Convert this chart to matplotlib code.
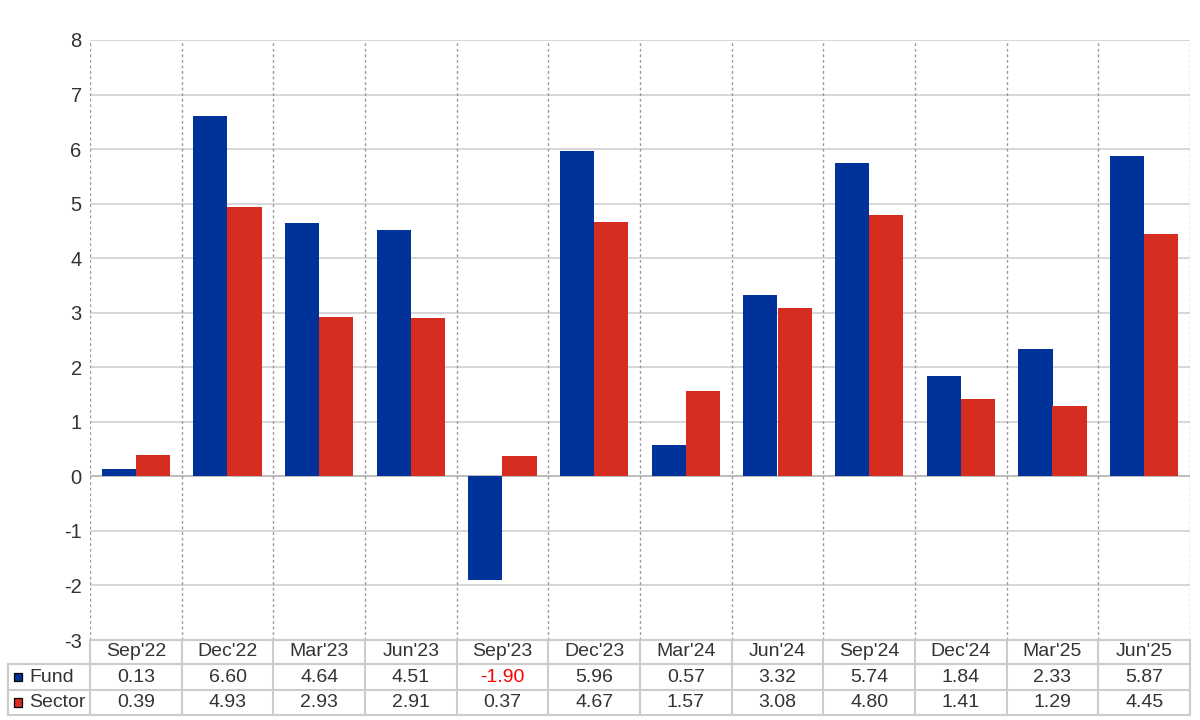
import matplotlib

matplotlib.use("Agg")

import matplotlib.pyplot as plt
import numpy as np
from matplotlib.patches import Rectangle

categories = ["Sep'22", "Dec'22", "Mar'23", "Jun'23", "Sep'23", "Dec'23",
              "Mar'24", "Jun'24", "Sep'24", "Dec'24", "Mar'25", "Jun'25"]
fund = [0.13, 6.60, 4.64, 4.51, -1.90, 5.96, 0.57, 3.32, 5.74, 1.84, 2.33, 5.87]
sector = [0.39, 4.93, 2.93, 2.91, 0.37, 4.67, 1.57, 3.08, 4.80, 1.41, 1.29, 4.45]
series_names = ["Fund", "Sector"]
yticks = list(range(-3, 9))

FUND_COLOR = "#003299"
SECTOR_COLOR = "#D62D20"
TEXT_COLOR = "#333333"
GRID_COLOR = "#cccccc"
FS = 14

plt.rcParams["font.family"] = ["Liberation Sans", "DejaVu Sans"]

W, H = 1200, 720
fig = plt.figure(figsize=(12, 7.2), dpi=100)

# main plot area in pixels
left, right, top, bottom = 90, 1190, 40, 640
ax = fig.add_axes([left / W, 1 - bottom / H, (right - left) / W, (bottom - top) / H])

x = np.arange(len(categories))
bw = 0.371
ax.bar(x - bw / 2, fund, bw, color=FUND_COLOR, zorder=3)
ax.bar(x + bw / 2, sector, bw, color=SECTOR_COLOR, zorder=3)

ax.set_xlim(-0.5, len(categories) - 0.5)
ax.set_ylim(-3, 8)
ax.set_yticks(yticks)
ax.set_yticklabels([str(t) for t in yticks], fontsize=FS + 0.5, color=TEXT_COLOR)
ax.tick_params(axis="y", length=0, pad=6)
ax.set_xticks([])
for y in yticks:
    ax.axhline(y, color="#aaaaaa" if y == 0 else GRID_COLOR, lw=1.1, zorder=1)
for b in np.arange(len(categories) + 1) - 0.5:
    ax.axvline(b, color="#999999", lw=1, ls=(0, (2, 2)), zorder=1)
for s in ax.spines.values():
    s.set_visible(False)

# data table below the plot
tleft, ttop, tbottom = 8, 640, 715
tax = fig.add_axes([tleft / W, 1 - tbottom / H, (right - tleft) / W, (tbottom - ttop) / H])
step = (right - left) / len(categories)
xl = -0.5 - (left - tleft) / step
xr = len(categories) - 0.5
tax.set_xlim(xl, xr)
tax.set_ylim(0, 3)
tax.axis("off")
row_y = [3, 2.04, 1.0, 0]  # header row, Fund row, Sector row boundaries
lc = dict(color=GRID_COLOR, lw=1.5, clip_on=False)
tax.plot([-0.5, xr], [row_y[0]] * 2, **lc)
for yy in row_y[1:]:
    tax.plot([xl, xr], [yy, yy], **lc)
tax.plot([xl, xl], [row_y[3], row_y[1]], **lc)
for b in np.arange(len(categories) + 1) - 0.5:
    tax.plot([b, b], [row_y[3], row_y[0]], **lc)

mid = [(row_y[0] + row_y[1]) / 2, (row_y[1] + row_y[2]) / 2, (row_y[2] + row_y[3]) / 2]
for i, c in enumerate(categories):
    tax.text(i, mid[0], c, ha="center", va="center", fontsize=FS, color=TEXT_COLOR)
for r, (vals, name, col) in enumerate(zip([fund, sector], series_names, [FUND_COLOR, SECTOR_COLOR])):
    ym = mid[r + 1]
    for i, v in enumerate(vals):
        tax.text(i, ym, f"{v:.2f}", ha="center", va="center", fontsize=FS,
                 color="#ff0000" if v < 0 else TEXT_COLOR)
    sq = 8 / step
    tax.add_patch(Rectangle((xl + 6 / step, ym - 0.17), sq, 0.34, facecolor=col,
                            edgecolor="black", lw=0.9, clip_on=False))
    tax.text(xl + 21 / step, ym, name, ha="left", va="center", fontsize=FS, color=TEXT_COLOR)

fig.savefig("out.png", dpi=100)
